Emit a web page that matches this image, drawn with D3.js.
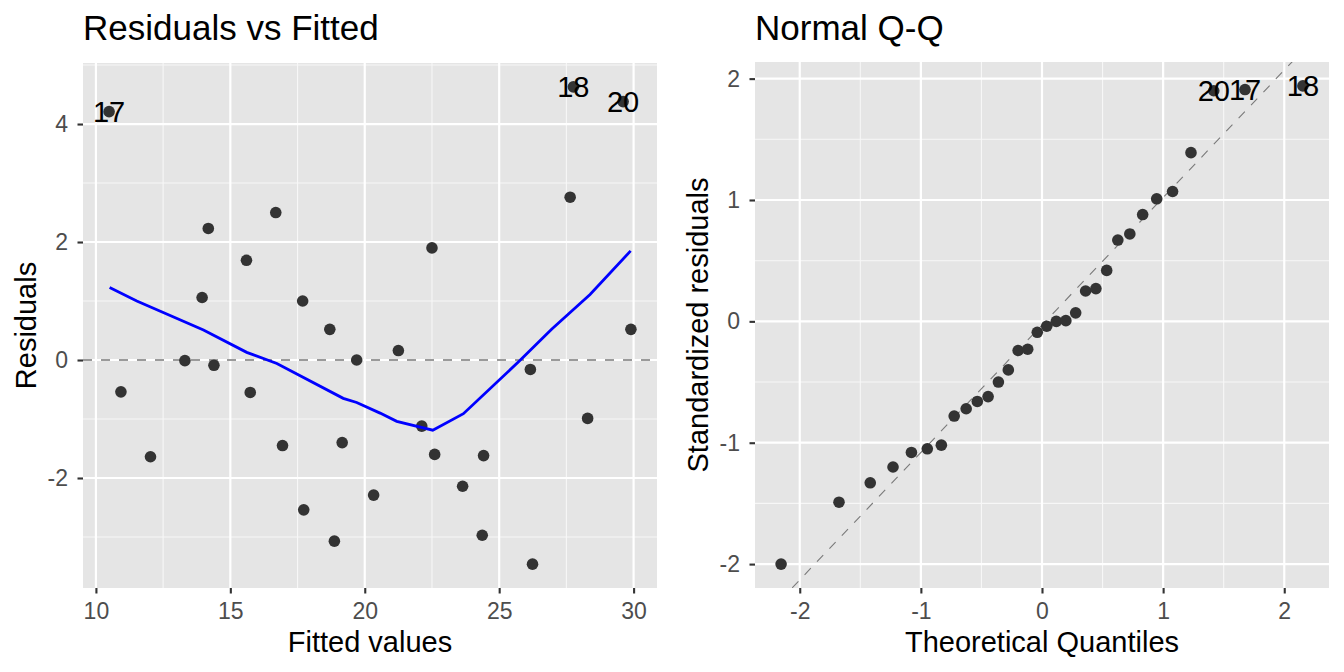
<!DOCTYPE html>
<html>
<head>
<meta charset="utf-8">
<script src="https://cdn.jsdelivr.net/npm/d3@7"></script>
<style>
body{margin:0;background:#fff;}
svg{display:block;font-family:"Liberation Sans",Arial,Helvetica,sans-serif;}
</style>
</head>
<body>
<svg id="chart"></svg>
<script>
// residuals vs fitted, one entry per observation
const fitted = [10.49,14.18,16.69,15.60,13.95,17.69,18.70,13.31,14.39,19.70,10.93,15.74,12.03,16.94,19.16,20.33,17.73,18.87,
                27.76,29.61,27.64,22.50,29.90,21.25,26.16,22.12,22.60,24.42,28.29,23.64,24.37,26.24];
const resid  = [4.21,2.23,2.50,1.69,1.06,1.00,0.52,-0.01,-0.09,0.00,-0.54,-0.55,-1.64,-1.45,-1.40,-2.29,-2.54,-3.07,
                4.63,4.38,2.76,1.90,0.52,0.16,-0.16,-1.12,-1.60,-1.62,-0.99,-2.14,-2.97,-3.46];
const residLabelIdx = [0,18,19];
const residLabelTxt = ['17','18','20'];

// smoother through the residuals
const smoothX = [10.51,11.52,14.00,15.61,16.73,19.20,19.70,20.57,21.19,22.53,23.67,25.77,26.95,28.38,29.89];
const smoothY = [1.23,1.00,0.51,0.13,-0.06,-0.65,-0.72,-0.90,-1.04,-1.19,-0.91,-0.01,0.52,1.11,1.85];

// normal q-q
const theo = [-2.154,-1.676,-1.418,-1.230,-1.078,-0.947,-0.831,-0.725,-0.626,-0.534,-0.445,-0.360,-0.278,-0.197,-0.118,-0.039,
              0.039,0.118,0.197,0.278,0.360,0.445,0.534,0.626,0.725,0.831,0.947,1.078,1.230,1.418,1.676,2.154];
const stdResid = [-2.00,-1.49,-1.33,-1.20,-1.08,-1.05,-1.02,-0.78,-0.72,-0.66,-0.62,-0.50,-0.40,-0.24,-0.23,-0.09,
                  -0.04,0.00,0.006,0.07,0.25,0.27,0.42,0.67,0.72,0.88,1.01,1.07,1.39,1.90,1.91,1.94];
const qqLabelIdx = [29,30,31];
const qqLabelTxt = ['20','17','18'];
const qqLine = {intercept:-0.03, slope:1.05};

const fitTicksX = [10,15,20,25,30];
const fitTicksY = [-2,0,2,4];
const qqTicksX = [-2,-1,0,1,2];
const qqTicksY = [-2,-1,0,1,2];

const width = 1344, height = 672;
const svg = d3.select('#chart').attr('width',width).attr('height',height);

const expand = (vals)=>{
	const [lo,hi] = d3.extent(vals);
	const r = hi - lo;
	return [lo - r*0.05, hi + r*0.05];
}
const minors = (ticks,domain)=>{
	const step = ticks[1]-ticks[0];
	const out = [];
	for (let t = ticks[0]-step/2; t <= ticks[ticks.length-1]+step/2+1e-9; t += step) out.push(t);
	return out.filter(t => t >= domain[0] && t <= domain[1]);
}

const drawPanel = function(cfg){
	const {left,right,top,bottom} = cfg.box;
	const x = d3.scaleLinear(expand(cfg.xData), [left, right]);
	const y = d3.scaleLinear(expand(cfg.yData), [bottom, top]);
	const g = svg.append('g');

	g.append('rect').attr('x',left).attr('y',top)
		.attr('width',right-left).attr('height',bottom-top)
		.attr('fill','#E5E5E5');

	// grid
	g.selectAll('.minx').data(minors(cfg.xTicks,x.domain())).join('line')
		.attr('x1',d=>x(d)).attr('x2',d=>x(d)).attr('y1',top).attr('y2',bottom)
		.attr('stroke','#F7F7F7').attr('stroke-width',1.1);
	g.selectAll('.miny').data(minors(cfg.yTicks,y.domain())).join('line')
		.attr('y1',d=>y(d)).attr('y2',d=>y(d)).attr('x1',left).attr('x2',right)
		.attr('stroke','#F7F7F7').attr('stroke-width',1.1);
	g.selectAll('.majx').data(cfg.xTicks).join('line')
		.attr('x1',d=>x(d)).attr('x2',d=>x(d)).attr('y1',top).attr('y2',bottom)
		.attr('stroke','#fff').attr('stroke-width',2.2);
	g.selectAll('.majy').data(cfg.yTicks).join('line')
		.attr('y1',d=>y(d)).attr('y2',d=>y(d)).attr('x1',left).attr('x2',right)
		.attr('stroke','#fff').attr('stroke-width',2.2);

	// axes
	const ax = g.append('g').attr('transform',`translate(0,${bottom})`)
		.call(d3.axisBottom(x).tickValues(cfg.xTicks).tickSize(5.5).tickPadding(9).tickFormat(d=>String(d)));
	const ay = g.append('g').attr('transform',`translate(${left},0)`)
		.call(d3.axisLeft(y).tickValues(cfg.yTicks).tickSize(5.5).tickPadding(9.5).tickFormat(d=>String(d)));
	[ax,ay].forEach(a=>{
		a.select('.domain').remove();
		a.selectAll('line').attr('stroke','#333').attr('stroke-width',2.1);
		a.selectAll('text').attr('fill','#4D4D4D').style('font-size','23px').style('font-family','inherit');
	});

	// titles
	g.append('text').attr('x',left).attr('y',40)
		.style('font-size','35px').attr('fill','#000').text(cfg.title);
	g.append('text').attr('x',(left+right)/2).attr('y',652)
		.attr('text-anchor','middle').style('font-size','29px').attr('fill','#000').text(cfg.xTitle);
	g.append('text').attr('transform',`translate(${left-47},${(top+bottom)/2}) rotate(-90)`)
		.attr('text-anchor','middle').style('font-size','29px').attr('fill','#000').text(cfg.yTitle);

	const clip = 'clip' + cfg.id;
	g.append('clipPath').attr('id',clip).append('rect')
		.attr('x',left).attr('y',top).attr('width',right-left).attr('height',bottom-top);
	const plot = g.append('g').attr('clip-path',`url(#${clip})`);
	return {x, y, g, plot};
}

// ---- residuals vs fitted
const p1 = drawPanel({
	id:1, box:{left:83,right:657,top:63,bottom:588},
	xData:fitted, yData:resid, xTicks:fitTicksX, yTicks:fitTicksY,
	title:'Residuals vs Fitted', xTitle:'Fitted values', yTitle:'Residuals'
});
p1.plot.append('line')
	.attr('x1',p1.x.range()[0]).attr('x2',p1.x.range()[1]).attr('y1',p1.y(0)).attr('y2',p1.y(0))
	.attr('stroke','#7A7A7A').attr('stroke-width',1.3).attr('stroke-dasharray','9,9');
p1.plot.selectAll('circle').data(fitted).join('circle')
	.attr('cx',d=>p1.x(d)).attr('cy',(d,i)=>p1.y(resid[i])).attr('r',5.8).attr('fill','#333');
p1.plot.append('path')
	.datum(d3.zip(smoothX,smoothY))
	.attr('d',d3.line().x(d=>p1.x(d[0])).y(d=>p1.y(d[1])))
	.attr('fill','none').attr('stroke','#0000FF').attr('stroke-width',2.8);
p1.g.selectAll('.lab').data(residLabelIdx).join('text')
	.attr('x',i=>p1.x(fitted[i])).attr('y',i=>p1.y(resid[i]))
	.attr('dy','0.35em').attr('text-anchor','middle')
	.style('font-size','29px').attr('fill','#000')
	.text((d,k)=>residLabelTxt[k]);

// ---- normal q-q
const p2 = drawPanel({
	id:2, box:{left:755,right:1329,top:62,bottom:588},
	xData:theo, yData:stdResid, xTicks:qqTicksX, yTicks:qqTicksY,
	title:'Normal Q-Q', xTitle:'Theoretical Quantiles', yTitle:'Standardized residuals'
});
const [qx0,qx1] = p2.x.domain();
p2.plot.append('line')
	.attr('x1',p2.x(qx0)).attr('y1',p2.y(qqLine.intercept+qqLine.slope*qx0))
	.attr('x2',p2.x(qx1)).attr('y2',p2.y(qqLine.intercept+qqLine.slope*qx1))
	.attr('stroke','#7A7A7A').attr('stroke-width',1.1).attr('stroke-dasharray','9,9');
p2.plot.selectAll('circle').data(theo).join('circle')
	.attr('cx',d=>p2.x(d)).attr('cy',(d,i)=>p2.y(stdResid[i])).attr('r',5.8).attr('fill','#333');
p2.g.selectAll('.lab').data(qqLabelIdx).join('text')
	.attr('x',i=>p2.x(theo[i])).attr('y',i=>p2.y(stdResid[i]))
	.attr('dy','0.35em').attr('text-anchor','middle')
	.style('font-size','29px').attr('fill','#000')
	.text((d,k)=>qqLabelTxt[k]);
</script>
</body>
</html>
